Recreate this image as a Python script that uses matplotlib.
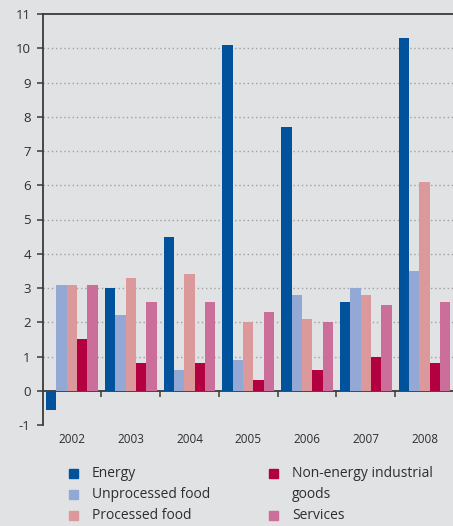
import matplotlib
matplotlib.use("Agg")
import matplotlib.pyplot as plt
from matplotlib.patches import Rectangle
import numpy as np

# Values
years = ["2002", "2003", "2004", "2005", "2006", "2007", "2008"]
energy = [-0.55, 3.0, 4.5, 10.1, 7.7, 2.6, 10.3]
unprocessed_food = [3.1, 2.2, 0.6, 0.9, 2.8, 3.0, 3.5]
processed_food = [3.1, 3.3, 3.4, 2.0, 2.1, 2.8, 6.1]
non_energy_goods = [1.5, 0.8, 0.8, 0.3, 0.6, 1.0, 0.8]
services = [3.1, 2.6, 2.6, 2.3, 2.0, 2.5, 2.6]

series = [
    ("Energy", energy, "#00529c"),
    ("Unprocessed food", unprocessed_food, "#93a8d4"),
    ("Processed food", processed_food, "#dc999b"),
    ("Non-energy industrial\ngoods", non_energy_goods, "#b20040"),
    ("Services", services, "#cc6e9a"),
]

bg = "#e1e2e4"
dark = "#3a3a3a"
plt.rcParams["font.family"] = ["Open Sans", "DejaVu Sans"]
plt.rcParams["axes.unicode_minus"] = False

fig = plt.figure(figsize=(4.53, 5.26), dpi=100, facecolor=bg)
ax = fig.add_axes([42.5 / 453, 1 - 425 / 526, 411.5 / 453, 411 / 526])
ax.set_facecolor(bg)

x = np.arange(len(years))
width = 0.176
for i, (name, vals, color) in enumerate(series):
    ax.bar(x + (i - 2) * width, vals, width, color=color, zorder=3)

ax.set_xlim(-0.5, len(years) - 0.5)
ax.set_ylim(-1, 11)
ax.set_yticks(range(-1, 12))
ax.set_xticks(x, years)

for side in ["right", "bottom"]:
    ax.spines[side].set_visible(False)
for side in ["left", "top"]:
    ax.spines[side].set_color(dark)
    ax.spines[side].set_linewidth(1.3)

ax.tick_params(axis="x", length=0, pad=6, labelsize=8.5, colors="#2e2e2e")
ax.tick_params(axis="y", length=4.5, width=1.1, color=dark, pad=4,
               labelsize=9.5, labelcolor="#2e2e2e")

# dotted grid at 1..10 only
ax.yaxis.grid(True, linestyle=(0, (1, 2)), color="#a0a0a0", linewidth=1.0, zorder=0)
for val, gl in zip(range(-1, 12), ax.get_ygridlines()):
    if val < 1 or val > 10:
        gl.set_visible(False)

# zero axis with ticks between year groups
zero_ax = ax.secondary_xaxis(1 / 12)
zero_ax.spines["bottom"].set_color(dark)
zero_ax.spines["bottom"].set_linewidth(1.3)
zero_ax.set_xticks(np.arange(0.5, len(years) - 0.5, 1.0), labels=[])
zero_ax.tick_params(length=4.5, width=1.1, color=dark)

# legend drawn by hand so the two-line entry lines up like the original
rows = [(0, 0), (0, 1), (0, 2), (1, 0), (1, 2)]
col_x = [69 / 453, 269 / 453]
row_y = [1 - 473 / 526, 1 - 494 / 526, 1 - 515 / 526]
for (col, row), (name, vals, color) in zip(rows, series):
    fig.add_artist(Rectangle((col_x[col], row_y[row] - 4.5 / 526), 9 / 453, 9 / 526,
                             transform=fig.transFigure, color=color))
    fig.text(col_x[col] + 23 / 453, row_y[row] + 7 / 526, name, ha="left", va="top",
             fontsize=10, color="#2e2e2e", linespacing=1.55)

fig.savefig("out.png", dpi=100, facecolor=bg)
